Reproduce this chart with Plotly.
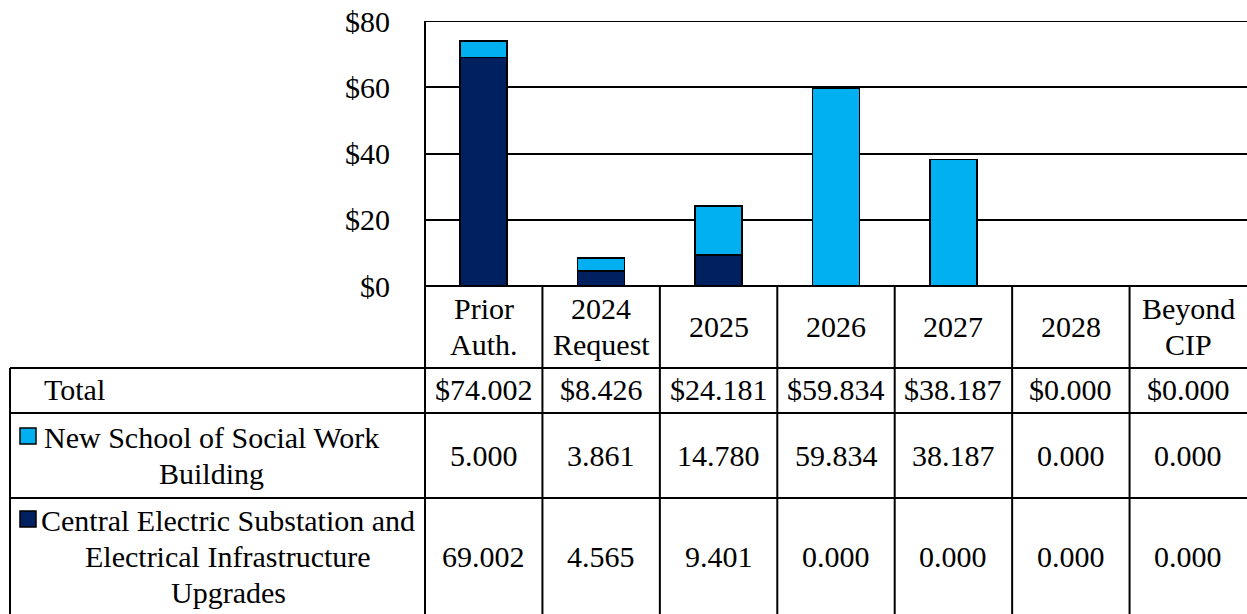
import plotly.graph_objects as go

# ---- data ----
categories = ["Prior Auth.", "2024 Request", "2025", "2026", "2027", "2028", "Beyond CIP"]
header_lines = [["Prior", "Auth."], ["2024", "Request"], ["2025"], ["2026"], ["2027"], ["2028"], ["Beyond", "CIP"]]
series_names = ["New School of Social Work Building",
                "Central Electric Substation and Electrical Infrastructure Upgrades"]
label_lines = [["New School of Social Work", "Building"],
               ["Central Electric Substation and", "Electrical Infrastructure", "Upgrades"]]
new_school = [5.000, 3.861, 14.780, 59.834, 38.187, 0.000, 0.000]
central = [69.002, 4.565, 9.401, 0.000, 0.000, 0.000, 0.000]
totals = [a + b for a, b in zip(new_school, central)]
y_ticks = [0, 20, 40, 60, 80]

# ---- style ----
W, H = 1247, 614
LIGHT = "#00B0F0"
DARK = "#002060"
FONT = "Liberation Serif, Times New Roman, serif"
FS = 30
LH = 36  # line height in px

def px_x(p):
    return p / W

def px_y(p):
    return 1 - p / H

plot_left, plot_top, plot_bottom = 425, 21, 286
table_left = 10
row_lines = [368, 413, 498]

fig = go.Figure()
fig.add_trace(go.Bar(x=categories, y=central, name=series_names[1], width=0.4,
                     marker=dict(color=DARK, line=dict(color="black", width=1.5)),
                     hoverinfo="skip"))
fig.add_trace(go.Bar(x=categories, y=new_school, name=series_names[0], width=0.4,
                     marker=dict(color=LIGHT, line=dict(color="black", width=1.5)),
                     hoverinfo="skip"))

shapes = []
annotations = []

# top gridline (max of value axis)
shapes.append(dict(type="line", xref="paper", yref="y",
                   x0=px_x(plot_left), x1=1, y0=y_ticks[-1], y1=y_ticks[-1],
                   line=dict(color="black", width=2), layer="below"))
# left border of chart / table column
shapes.append(dict(type="line", xref="paper", yref="paper",
                   x0=px_x(plot_left), x1=px_x(plot_left), y0=0, y1=px_y(plot_top),
                   line=dict(color="black", width=2)))
# column separators
for i in range(len(categories) - 1):
    shapes.append(dict(type="line", xref="x", yref="paper",
                       x0=i + 0.5, x1=i + 0.5, y0=0, y1=px_y(plot_bottom),
                       line=dict(color="black", width=2)))
# table row lines
for r in row_lines:
    shapes.append(dict(type="line", xref="paper", yref="paper",
                       x0=px_x(table_left), x1=1, y0=px_y(r), y1=px_y(r),
                       line=dict(color="black", width=2)))
# table left border
shapes.append(dict(type="line", xref="paper", yref="paper",
                   x0=px_x(table_left), x1=px_x(table_left), y0=0, y1=px_y(row_lines[0]),
                   line=dict(color="black", width=2)))

def add_lines(lines, x, xref, yc, xanchor="center"):
    n = len(lines)
    for k, t in enumerate(lines):
        yy = yc + (k - (n - 1) / 2) * LH
        annotations.append(dict(text=t, x=x, xref=xref, y=px_y(yy), yref="paper",
                                xanchor=xanchor, yanchor="middle", showarrow=False,
                                font=dict(family=FONT, size=FS, color="black")))

# header row
for i, lines in enumerate(header_lines):
    add_lines(lines, i, "x", 326)

# row labels
add_lines(["Total"], px_x(42), "paper", 390, xanchor="left")
add_lines(label_lines[0], px_x(211), "paper", 455)
add_lines(label_lines[1], px_x(228), "paper", 556)

# legend squares
for color, (y0, y1) in [(LIGHT, (428, 444)), (DARK, (511, 527))]:
    shapes.append(dict(type="rect", xref="paper", yref="paper",
                       x0=px_x(20), x1=px_x(36), y0=px_y(y1), y1=px_y(y0),
                       fillcolor=color, line=dict(color="black", width=1.5)))

# values
for i, c in enumerate(categories):
    add_lines([f"${totals[i]:.3f}"], i, "x", 390)
    add_lines([f"{new_school[i]:.3f}"], i, "x", 455)
    add_lines([f"{central[i]:.3f}"], i, "x", 556)

fig.update_layout(
    width=W, height=H, autosize=False,
    margin=dict(l=0, r=0, t=0, b=0, pad=0),
    paper_bgcolor="white", plot_bgcolor="white",
    barmode="stack", showlegend=False,
    xaxis=dict(domain=[px_x(plot_left), 1], range=[-0.5, len(categories) - 0.5],
               showticklabels=False, showgrid=False, zeroline=False, showline=False,
               automargin=False, fixedrange=True),
    yaxis=dict(domain=[px_y(plot_bottom), px_y(plot_top)], range=[0, 80],
               tickvals=y_ticks, ticktext=[f"${v}" for v in y_ticks],
               showgrid=True, gridcolor="black", gridwidth=2,
               zeroline=True, zerolinecolor="black", zerolinewidth=2,
               showline=False, ticks="", ticklabelstandoff=34, automargin=False,
               tickfont=dict(family=FONT, size=FS, color="black"), fixedrange=True),
    shapes=shapes, annotations=annotations,
)

fig.write_html("out.html", config={"displayModeBar": False})
